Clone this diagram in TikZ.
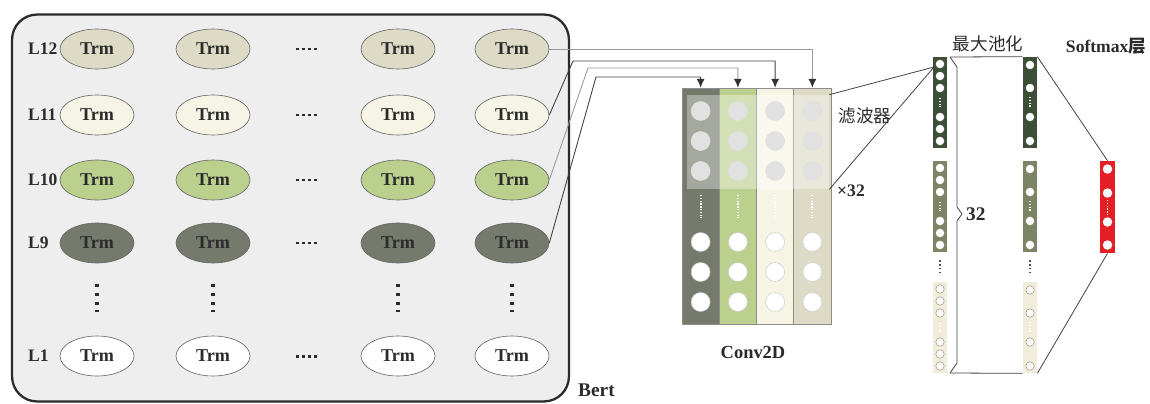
\documentclass[tikz,border=0pt]{standalone}
\usepackage{fontspec}
\setmainfont{Liberation Serif}
\newfontfamily\cjk{Noto Sans CJK SC}
\usepackage{tikz}
\usetikzlibrary{shapes.geometric,arrows.meta,positioning}
\definecolor{trmbeige}{HTML}{DDDBC5}
\definecolor{trmcream}{HTML}{F6F5E5}
\definecolor{trmgreen}{HTML}{BCD08E}
\definecolor{trmdark}{HTML}{757A6D}
\definecolor{bertbg}{HTML}{EEEEEE}
\definecolor{pooldark}{HTML}{3D4F37}
\definecolor{poololive}{HTML}{7D8466}
\definecolor{poolcream}{HTML}{F2ECDA}
\definecolor{smred}{HTML}{E31E24}
\definecolor{circgray}{HTML}{E1E1E1}
\definecolor{ink}{HTML}{2B2B2B}

\begin{document}
\begin{tikzpicture}[x=0.02cm, y=-0.02cm,
  bertbox/.style={rectangle, rounded corners=0.5cm, draw=ink, line width=1.3pt,
    fill=bertbg, minimum width=11.14cm, minimum height=7.74cm, inner sep=0pt},
  trm/.style={ellipse, draw=black!60, line width=0.35pt, minimum width=1.48cm,
    minimum height=0.8cm, inner sep=0pt, text=ink,
    font=\fontsize{10.3}{12}\selectfont\bfseries},
  lbl/.style={text=ink, font=\fontsize{10}{12}\selectfont\bfseries},
  zh/.style={text=ink, font=\fontsize{10}{12}\selectfont\cjk},
  convcol/.style={rectangle, draw=black!45, line width=0.4pt, minimum width=0.745cm,
    minimum height=4.72cm, inner sep=0pt},
  filterbox/.style={rectangle, fill=white, fill opacity=0.35, minimum width=2.84cm,
    minimum height=1.88cm, inner sep=0pt},
  poolcol/.style={rectangle, minimum width=0.28cm, minimum height=1.82cm, inner sep=0pt},
  conn/.style={line width=0.5pt, -{Latex[length=5pt,width=4.5pt,color=black!80]}},
  hdots/.style={line width=1.7pt, dash pattern=on 1.7pt off 1.7pt, ink},
  vdots/.style={line width=1.8pt, dash pattern=on 1.8pt off 3.2pt, ink},
  wdots/.style={line width=1.1pt, dash pattern=on 0.8pt off 0.8pt, white},
  thinline/.style={line width=0.45pt, black!75}]
  \useasboundingbox (0,0) rectangle (1150,403);

  \node[bertbox] (bert) at (290.5,208) {};
  \node[lbl, font=\fontsize{11}{13}\selectfont\bfseries, anchor=west] (bertlbl) at (572,390) {Bert};
  \foreach \y/\l/\c in {49/L12/trmbeige,115/L11/trmcream,180/L10/trmgreen,243/L9/trmdark,356/L1/white} {
    \node[lbl, anchor=west] (n\l) at (22,\y) {\l};
    \foreach \x [count=\i] in {97,213,398,512}
      \node[trm, fill=\c] (t\l-\i) at (\x,\y) {Trm};
    \draw[hdots] (296,\y) -- (318,\y);
  }
  \foreach \x in {97,213,398,512}
    \draw[vdots] (\x,284) -- (\x,312);

  \foreach \c [count=\i] in {trmdark,trmgreen,trmcream,trmbeige}
    \node[convcol, fill=\c] (c\i) at ({682+37.25*(\i-0.5)},206) {};
  \node[filterbox] (filter) at (758,142) {};
  \foreach \i [evaluate=\i as \cx using 682+37.25*(\i-0.5)] in {1,...,4} {
    \foreach \y in {111,141,171}
      \filldraw[fill=circgray, draw=black!12, line width=0.3pt] (\cx,\y) circle[radius=0.19cm];
    \foreach \y in {242,272,302}
      \filldraw[fill=white, draw=white!80!black, line width=0.3pt] (\cx,\y) circle[radius=0.19cm];
    \draw[wdots] (\cx,195) -- (\cx,218);
  }
  \node[zh] (filterlbl) at (865,116) {滤波器};
  \node[lbl] (times) at (851,191) {×32};
  \node[lbl, font=\fontsize{10.5}{12}\selectfont\bfseries] (convlbl) at (753,352) {Conv2D};

  \draw[conn, black!40] (tL12-4.east) -| (c4.north);
  \draw[conn, black!75] (tL11-4.east) -- (573,61) -| (c3.north);
  \draw[conn, black!40] (tL10-4.east) -- (588,68) -| (c2.north);
  \draw[conn, black!75] (tL9-4.east) -- (596,77) -| (c1.north);

  \foreach \x/\k in {940/1,1030/2} {
    \node[poolcol, fill=pooldark] (pd\k) at (\x,102.5) {};
    \node[poolcol, fill=poololive] (po\k) at (\x,206.5) {};
    \node[poolcol, fill=poolcream] (pc\k) at (\x,327.5) {};
    \draw[line width=1.2pt, dash pattern=on 1pt off 1.2pt, black!70] (\x,260) -- (\x,275);
  }
  \foreach \t in {57,161} {
    \foreach \o in {7,19,31,60,72,84}
      \fill[white] (940,\t+\o) circle[radius=0.085cm];
    \foreach \o in {8,31,60,84}
      \fill[white] (1030,\t+\o) circle[radius=0.085cm];
    \draw[wdots] (940,\t+41) -- (940,\t+50);
    \draw[wdots] (1030,\t+40) -- (1030,\t+51);
  }
  \foreach \o in {7,19,31,60,72,84}
    \filldraw[fill=white!70!poolcream, draw=black!40, line width=0.3pt] (940,282+\o) circle[radius=0.085cm];
  \foreach \o in {8,31,60,84}
    \filldraw[fill=white!70!poolcream, draw=black!40, line width=0.3pt] (1030,282+\o) circle[radius=0.085cm];
  \draw[wdots] (940,323) -- (940,332);
  \draw[wdots] (1030,322) -- (1030,333);

  \node[poolcol, fill=smred, minimum width=0.3cm, minimum height=1.84cm] (sm) at (1107.5,207) {};
  \foreach \y in {169,193,222,245}
    \fill[white] (1107.5,\y) circle[radius=0.095cm];
  \draw[wdots] (1107.5,200) -- (1107.5,215);

  \coordinate (fend) at (934,67);
  \draw[thinline] (filter.north east) -- (fend);
  \draw[thinline] (filter.south east) -- (fend);
  \coordinate (brtop) at (950,57);
  \coordinate (brbot) at (950,373);
  \draw[thinline] (brtop) -- ++(7,10) -- (957,207) -- (962,214) -- (957,221) -- (957,363) -- (brbot);
  \draw[thinline] (brtop) -- (pd2.north west);
  \draw[thinline] (brbot) -- (pc2.south west);
  \node[lbl, font=\fontsize{11}{13}\selectfont\bfseries, anchor=west] (n32) at (960,214) {32};
  \draw[thinline] (pd2.north east) -- (sm.north);
  \draw[thinline] (pc2.south east) -- (sm.south);
  \node[zh] (poollbl) at (988,44) {最大池化};
  \node[lbl] (smlbl) at (1106,46) {Softmax{\cjk 层}};
\end{tikzpicture}
\end{document}
